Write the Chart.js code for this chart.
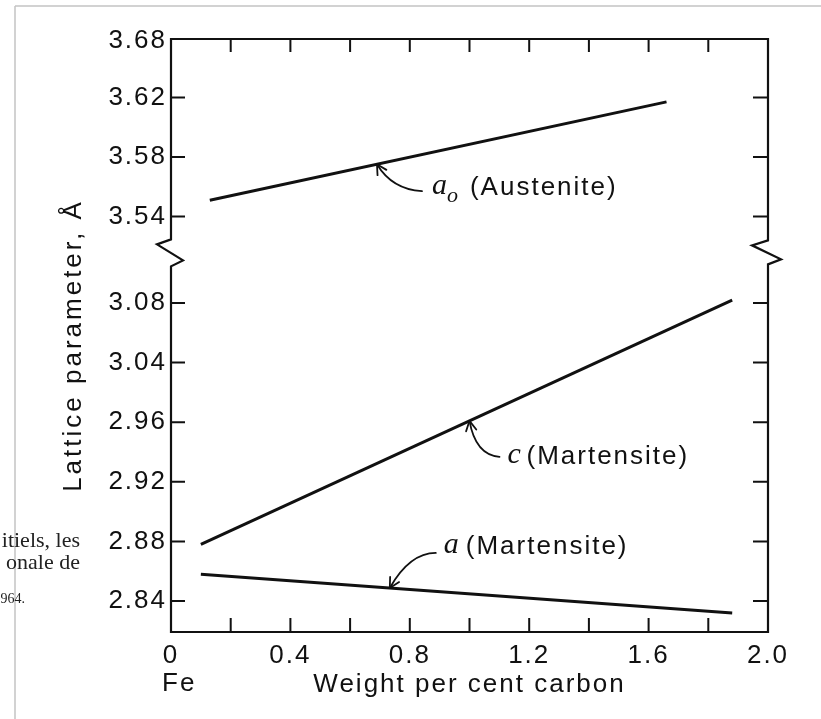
<!DOCTYPE html>
<html>
<head>
<meta charset="utf-8">
<script src="https://cdn.jsdelivr.net/npm/chart.js@4.4.0/dist/chart.umd.min.js"></script>
<style>
html,body{margin:0;padding:0;background:#fff;}
canvas{display:block;}
</style>
</head>
<body>
<canvas id="chart" width="821" height="719"></canvas>
<script>
// ---------------- data ----------------
const xTickValues = [0, 0.4, 0.8, 1.2, 1.6, 2.0];
const xTickLabels = ['0', '0.4', '0.8', '1.2', '1.6', '2.0'];
const xMinorTickValues = [0.2, 0.4, 0.6, 0.8, 1.0, 1.2, 1.4, 1.6, 1.8];
const yTickValues = [2.84, 2.88, 2.92, 2.96, 3.04, 3.08, 3.54, 3.58, 3.62, 3.68];
const yTickLabels = ['2.84', '2.88', '2.92', '2.96', '3.04', '3.08', '3.54', '3.58', '3.62', '3.68'];

const austeniteCarbon = [0.13, 1.66];
const austeniteParam  = [3.551, 3.617];
const martensiteCCarbon = [0.10, 1.88];
const martensiteCParam  = [2.878, 3.082];
const martensiteACarbon = [0.10, 1.88];
const martensiteAParam  = [2.858, 2.832];

const xTitle = 'Weight per cent carbon';
const yTitle = 'Lattice parameter, \u00C5';
const originLabel = 'Fe';

// ---------------- layout of the broken axis ----------------
// axis units: each labelled tick occupies one step; a gap separates the two segments
const Y_TICK_POS = [0, 1, 2, 3, 4, 5, 6.45, 7.45, 8.45, 9.4];
const Y_MIN = -0.52, Y_MAX = 9.43;
const BREAK_POS = 5.85;
const SEGMENTS = [[0, 5], [6, 9]]; // index ranges of the two axis segments

function valueToPos(v) {
  const seg = v > 3.3 ? SEGMENTS[1] : SEGMENTS[0];
  let i = seg[0];
  while (i < seg[1] - 1 && v > yTickValues[i + 1]) i++;
  const v0 = yTickValues[i], v1 = yTickValues[i + 1];
  const p0 = Y_TICK_POS[i], p1 = Y_TICK_POS[i + 1];
  return p0 + (v - v0) / (v1 - v0) * (p1 - p0);
}
function toPoints(xs, ys) { return xs.map((x, i) => ({ x: x, y: valueToPos(ys[i]) })); }

const INK = '#111';
const SANS = '"Liberation Sans", Arial, sans-serif';
const LABEL_FONT = '26px ' + SANS;
const ITALIC_FONT = 'italic 30px "Liberation Serif", serif';
const ITALIC_SMALL = 'italic 22px "Liberation Serif", serif';

const annotations = [
  { ds: 0, tipX: 0.69, tail: [45, 27], ctrl: [15, 25],
    parts: [ { t: 'a', font: ITALIC_FONT, dx: 55, dy: 22 },
             { t: 'o', font: ITALIC_SMALL, dx: 70, dy: 32 },
             { t: '(Austenite)', font: LABEL_FONT, dx: 93, dy: 24 } ] },
  { ds: 1, tipX: 1.0, tail: [30, 36], ctrl: [6, 34],
    parts: [ { t: 'c', font: ITALIC_FONT, dx: 38, dy: 34 },
             { t: '(Martensite)', font: LABEL_FONT, dx: 57, dy: 36 } ] },
  { ds: 2, tipX: 0.733, tail: [46, -35], ctrl: [20, -35],
    parts: [ { t: 'a', font: ITALIC_FONT, dx: 54, dy: -43 },
             { t: '(Martensite)', font: LABEL_FONT, dx: 76, dy: -41 } ] }
];

const spacingPlugin = {
  id: 'spacing',
  beforeUpdate(chart) { chart.ctx.letterSpacing = '2px'; },
  beforeDraw(chart) {
    const ctx = chart.ctx;
    ctx.letterSpacing = '2px';
    ctx.save();
    ctx.fillStyle = '#fff';
    ctx.fillRect(0, 0, chart.width, chart.height);
    ctx.restore();
  }
};

const framePlugin = {
  id: 'frame',
  afterDatasetsDraw(chart) {
    const ctx = chart.ctx;
    const xs = chart.scales.x, ys = chart.scales.y;
    const L = xs.left, R = xs.right, T = ys.top, B = ys.bottom;
    const yc = ys.getPixelForValue(BREAK_POS);
    ctx.save();
    ctx.strokeStyle = INK;
    ctx.lineWidth = 2.2;
    ctx.lineJoin = 'miter';
    ctx.beginPath();
    ctx.moveTo(L, T);
    ctx.lineTo(L, yc - 13); ctx.lineTo(L - 14, yc - 8); ctx.lineTo(L + 12, yc + 8); ctx.lineTo(L, yc + 14);
    ctx.lineTo(L, B);
    ctx.lineTo(R, B);
    ctx.lineTo(R, yc + 12); ctx.lineTo(R + 13, yc + 7); ctx.lineTo(R - 16, yc - 7); ctx.lineTo(R, yc - 12);
    ctx.lineTo(R, T);
    ctx.closePath();
    ctx.stroke();
    // y ticks (inward, both sides)
    ctx.lineWidth = 2;
    ctx.beginPath();
    Y_TICK_POS.forEach(p => {
      const y = ys.getPixelForValue(p);
      if (y - T < 6) return;
      ctx.moveTo(L, y); ctx.lineTo(L + 14, y);
      ctx.moveTo(R, y); ctx.lineTo(R - 15, y);
    });
    // x ticks (inward, top and bottom)
    xMinorTickValues.forEach(v => {
      const x = xs.getPixelForValue(v);
      ctx.moveTo(x, B); ctx.lineTo(x, B - 14);
      ctx.moveTo(x, T); ctx.lineTo(x, T + 13);
    });
    ctx.stroke();

    // annotations with curved arrows
    ctx.lineWidth = 1.8;
    ctx.lineCap = 'round';
    annotations.forEach(a => {
      const pts = chart.getDatasetMeta(a.ds).data;
      const p0 = pts[0], p1 = pts[pts.length - 1];
      const tx = xs.getPixelForValue(a.tipX);
      const t = (tx - p0.x) / (p1.x - p0.x);
      const ty = p0.y + t * (p1.y - p0.y);
      const sx = tx + a.tail[0], sy = ty + a.tail[1];
      const cx = tx + a.ctrl[0], cy = ty + a.ctrl[1];
      ctx.beginPath();
      ctx.moveTo(sx, sy);
      ctx.quadraticCurveTo(cx, cy, tx, ty);
      ctx.stroke();
      let dx = tx - cx, dy = ty - cy;
      const len = Math.hypot(dx, dy); dx /= len; dy /= len;
      const ang = 28 * Math.PI / 180, hl = 11;
      ctx.beginPath();
      [ang, -ang].forEach(g => {
        const rx = dx * Math.cos(g) - dy * Math.sin(g);
        const ry = dx * Math.sin(g) + dy * Math.cos(g);
        ctx.moveTo(tx, ty);
        ctx.lineTo(tx - rx * hl, ty - ry * hl);
      });
      ctx.stroke();
      ctx.fillStyle = INK;
      ctx.textAlign = 'left';
      ctx.textBaseline = 'middle';
      a.parts.forEach(part => {
        ctx.font = part.font;
        ctx.letterSpacing = part.font === LABEL_FONT ? '2px' : '0px';
        ctx.fillText(part.t, tx + part.dx, ty + part.dy);
      });
    });
    ctx.restore();
  },
  afterDraw(chart) {
    const ctx = chart.ctx;
    const xs = chart.scales.x, ys = chart.scales.y;
    ctx.save();
    ctx.fillStyle = INK;
    ctx.font = LABEL_FONT;
    ctx.textBaseline = 'middle';
    // y-axis title (rotated)
    ctx.save();
    ctx.letterSpacing = '3px';
    ctx.textAlign = 'center';
    ctx.translate(74, (ys.top + ys.bottom) / 2 + 10);
    ctx.rotate(-Math.PI / 2);
    ctx.fillText(yTitle, 0, 0);
    ctx.restore();
    // origin label under the 0
    ctx.letterSpacing = '2px';
    ctx.textAlign = 'left';
    ctx.fillText(originLabel, xs.left - 9, 684);
    // page border and clipped neighbouring text of the scanned page
    ctx.letterSpacing = '0px';
    ctx.strokeStyle = '#c4c4c4';
    ctx.lineWidth = 1.5;
    ctx.beginPath();
    ctx.moveTo(15, 6); ctx.lineTo(821, 6);
    ctx.moveTo(15, 6); ctx.lineTo(15, 719);
    ctx.stroke();
    ctx.fillStyle = '#222';
    ctx.textAlign = 'right';
    ctx.font = '22px "Liberation Serif", serif';
    ctx.fillText('itiels, les', 80, 541);
    ctx.fillText('onale de', 80, 563);
    ctx.font = '14px "Liberation Serif", serif';
    ctx.fillText('964.', 25, 599);
    ctx.restore();
  }
};

const lineStyle = { borderColor: INK, borderWidth: 3, pointRadius: 0, fill: false, tension: 0, borderCapStyle: 'butt' };

new Chart(document.getElementById('chart'), {
  type: 'line',
  data: {
    datasets: [
      Object.assign({ label: 'a0 (Austenite)', data: toPoints(austeniteCarbon, austeniteParam) }, lineStyle),
      Object.assign({ label: 'c (Martensite)', data: toPoints(martensiteCCarbon, martensiteCParam) }, lineStyle),
      Object.assign({ label: 'a (Martensite)', data: toPoints(martensiteACarbon, martensiteAParam) }, lineStyle)
    ]
  },
  options: {
    responsive: false,
    animation: false,
    layout: { padding: { left: 50, right: 53, top: 39, bottom: 0 } },
    plugins: { legend: { display: false }, tooltip: { enabled: false } },
    scales: {
      x: {
        type: 'linear', min: 0, max: 2,
        grid: { display: false, drawTicks: false }, border: { display: false },
        afterBuildTicks: s => { s.ticks = xTickValues.map(v => ({ value: v })); },
        afterFit: s => { s.height = 87; },
        ticks: { callback: (v, i) => xTickLabels[i], padding: 8, color: INK, maxRotation: 0, autoSkip: false,
                 font: { family: SANS, size: 26 } },
        title: { display: true, text: xTitle, color: INK, font: { family: SANS, size: 26 }, padding: { top: 0, bottom: 19 } }
      },
      y: {
        type: 'linear', min: Y_MIN, max: Y_MAX,
        grid: { display: false, drawTicks: false }, border: { display: false },
        afterBuildTicks: s => { s.ticks = Y_TICK_POS.map(p => ({ value: p })); },
        afterFit: s => { s.width = 121; },
        ticks: { callback: (v, i) => yTickLabels[i], padding: 4, color: INK, autoSkip: false,
                 font: { family: SANS, size: 26 } },
        title: { display: false, text: yTitle }
      }
    }
  },
  plugins: [spacingPlugin, framePlugin]
});
</script>
</body>
</html>
